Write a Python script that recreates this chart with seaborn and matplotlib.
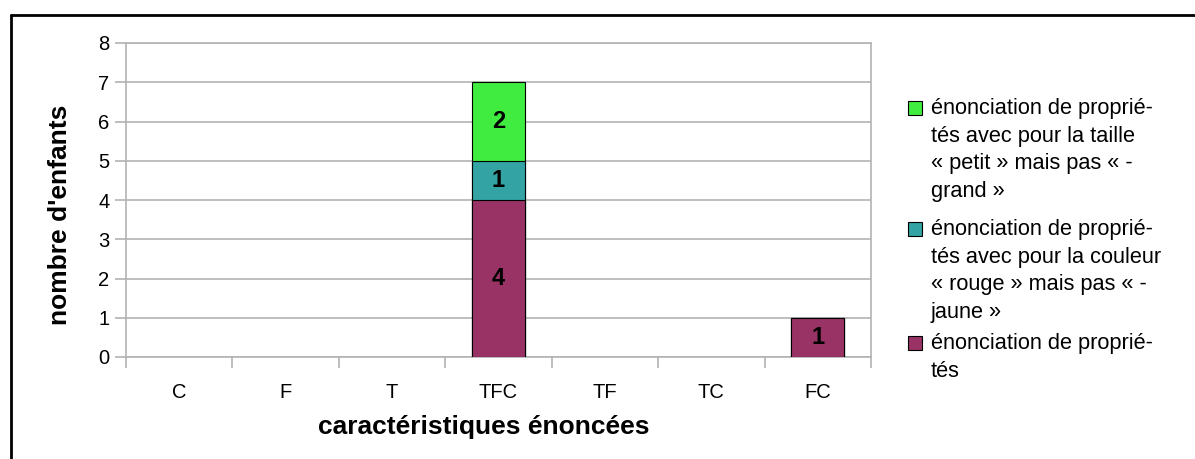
import numpy as np
import pandas as pd
import seaborn as sns
import matplotlib.pyplot as plt
from matplotlib.patches import Rectangle
from matplotlib.lines import Line2D
from matplotlib.ticker import FixedLocator

# Data
categories = ["C", "F", "T", "TFC", "TF", "TC", "FC"]
base_vals = [0, 0, 0, 4, 0, 0, 1]     # énonciation de propriétés
couleur_vals = [0, 0, 0, 1, 0, 0, 0]  # ... couleur « rouge »
taille_vals = [0, 0, 0, 2, 0, 0, 0]   # ... taille « petit »

series_labels = [
    "énonciation de proprié-\ntés",
    "énonciation de proprié-\ntés avec pour la couleur\n« rouge » mais pas « -\njaune »",
    "énonciation de proprié-\ntés avec pour la taille\n« petit » mais pas « -\ngrand »",
]
colors = ["#993366", "#33a3a3", "#40ec40"]

df = pd.DataFrame({"cat": categories, "base": base_vals,
                   "couleur": couleur_vals, "taille": taille_vals})
df["cum1"] = df["base"]
df["cum2"] = df["cum1"] + df["couleur"]
df["cum3"] = df["cum2"] + df["taille"]
# empty stacks should not draw a flat outline on the axis
for c in ["cum1", "cum2", "cum3"]:
    df[c] = df[c].replace(0, np.nan)

sns.set_style("white")
plt.rcParams["font.family"] = ["Liberation Sans", "DejaVu Sans"]
plt.rcParams["text.color"] = "black"
plt.rcParams["axes.labelcolor"] = "black"
plt.rcParams["xtick.labelcolor"] = "black"
plt.rcParams["ytick.labelcolor"] = "black"

fig = plt.figure(figsize=(11.95, 4.59), dpi=100)
ax = fig.add_axes([126 / 1195, 1 - 357 / 459, (871 - 126) / 1195, (357 - 43) / 459])

# stacked bars: draw cumulative totals back to front
for col, color in zip(["cum3", "cum2", "cum1"], colors[::-1]):
    sns.barplot(data=df, x="cat", y=col, order=categories, color=color,
                width=0.5, edgecolor="black", linewidth=0.8, saturation=1,
                ax=ax, zorder=3)

# segment labels
for i, row in df.iterrows():
    bottom = 0
    for col in ["base", "couleur", "taille"]:
        v = row[col]
        if v > 0:
            ax.text(i, bottom + v / 2, str(v), ha="center", va="center",
                    fontsize=17, fontweight="bold", zorder=4)
        bottom += v

ax.set_xlim(-0.5, len(categories) - 0.5)
ax.set_ylim(0, 8)
ax.set_yticks(range(0, 9))
ax.yaxis.grid(True, color="#b3b3b3", linewidth=1.2, zorder=0)
ax.set_axisbelow(True)
for s in ax.spines.values():
    s.set_color("#b3b3b3")
    s.set_linewidth(1.2)

ax.xaxis.set_minor_locator(FixedLocator([i - 0.5 for i in range(len(categories) + 1)]))
ax.tick_params(axis="x", which="major", length=0, pad=19, labelsize=14.5)
ax.tick_params(axis="x", which="minor", length=8, width=1.2, color="#b3b3b3",
               direction="out", bottom=True)
ax.tick_params(axis="y", length=8, width=1.2, color="#b3b3b3", direction="out",
               left=True, pad=4, labelsize=14.5)

ax.set_xlabel("caractéristiques énoncées", fontsize=19, fontweight="bold")
ax.set_ylabel("nombre d'enfants", fontsize=19, fontweight="bold")
ax.xaxis.set_label_coords(0.4805, -0.185)
ax.yaxis.set_label_coords(-0.072, 0.452)

# legend drawn by hand so the swatch sits next to the first line
entry_tops = [1 - 335 / 459, 1 - 221 / 459, 1 - 100 / 459]
for label, color, top in zip(series_labels, colors, entry_tops):
    fig.add_artist(Rectangle((908 / 1195, top - 15 / 459), 14 / 1195, 14 / 459,
                             transform=fig.transFigure, facecolor=color,
                             edgecolor="black", linewidth=0.8))
    fig.text(931 / 1195, top + 2 / 459, label, ha="left", va="top",
             fontsize=15.7, linespacing=1.42)

# outer frame (left and top edges)
fig.add_artist(Line2D([11 / 1195, 11 / 1195], [0, 1 - 15 / 459],
                      transform=fig.transFigure, color="black", linewidth=2))
fig.add_artist(Line2D([11 / 1195, 1], [1 - 15 / 459, 1 - 15 / 459],
                      transform=fig.transFigure, color="black", linewidth=2))

fig.savefig("out.png", dpi=100)
